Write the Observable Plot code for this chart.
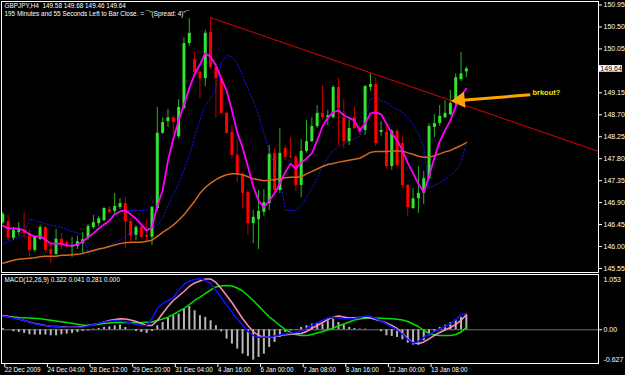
<!DOCTYPE html>
<html><head><meta charset="utf-8">
<script src="https://cdn.jsdelivr.net/npm/d3@7"></script>
<script src="https://cdn.jsdelivr.net/npm/@observablehq/plot@0.6"></script>
<style>
html,body{margin:0;padding:0;background:#000;}
#chart{position:relative;width:625px;height:375px;background:#000;overflow:hidden;}
#chart svg{position:absolute;left:0;display:block;}
</style></head><body><div id="chart"></div>
<script>
// ---- data (GBPJPY H4) ----
const open = [146.49,146.51,146.17,146.29,146.33,146.27,145.92,146.15,146.39,145.94,
145.84,146.15,146.08,145.98,146.00,146.06,146.17,146.39,146.47,146.53,
146.76,146.72,146.80,146.88,146.51,146.23,146.39,146.23,146.19,146.78,
148.32,148.56,148.64,148.25,148.83,150.16,149.83,149.57,149.44,150.39,
149.67,149.44,148.73,148.34,147.87,147.46,147.11,146.47,146.55,146.70,
146.88,147.91,147.15,148.01,147.85,147.83,147.25,147.95,148.15,148.46,
148.73,148.64,148.64,149.26,148.64,148.15,148.64,148.42,148.38,149.26,
149.32,148.34,148.34,147.64,148.36,148.11,147.25,146.78,146.98,147.09,
147.39,148.44,148.52,148.64,148.70,148.93,149.42,149.58];
const high = [146.70,146.64,146.39,146.49,146.68,146.33,146.21,146.43,146.41,146.08,
146.35,146.27,146.12,146.19,146.21,146.29,146.45,146.64,146.62,146.80,
146.82,147.09,146.98,147.00,146.57,146.43,146.45,146.55,146.82,148.85,
148.64,148.81,148.68,149.01,150.28,150.67,149.98,149.60,150.43,150.69,
149.67,149.46,148.75,148.48,148.19,147.52,147.15,146.74,147.15,147.17,
148.07,148.01,148.42,148.07,148.23,147.87,148.19,148.58,148.64,148.89,
149.30,148.79,149.30,149.44,149.01,148.62,148.85,148.48,149.30,149.54,
149.44,148.56,148.52,148.40,148.40,148.25,147.27,147.19,147.64,147.54,
148.52,148.70,148.89,148.99,149.20,149.54,149.98,149.68];
const low = [146.45,146.12,146.12,146.23,146.17,145.78,145.88,146.12,145.86,145.65,
145.82,145.94,145.98,145.78,145.94,145.86,146.12,146.35,146.41,146.51,
146.66,146.66,146.76,145.96,146.10,146.12,146.17,146.12,146.02,146.72,
148.30,148.44,148.30,148.21,148.79,150.10,149.53,149.03,149.28,149.63,
148.63,148.70,148.30,147.80,147.31,146.78,146.23,146.06,145.94,146.62,
146.74,147.11,147.09,147.76,147.80,147.13,147.00,147.91,148.13,148.42,
148.60,148.48,148.62,148.07,148.01,148.07,148.40,148.28,148.28,149.18,
148.05,148.26,147.58,147.56,147.62,147.19,146.62,146.76,146.68,146.86,
147.35,148.23,148.46,148.62,148.68,148.85,149.38,149.46];
const close = [146.66,146.17,146.33,146.35,146.27,145.92,146.19,146.39,145.92,145.84,
146.15,146.02,146.00,146.02,146.10,146.14,146.41,146.49,146.57,146.78,
146.70,146.82,146.88,146.51,146.21,146.39,146.19,146.19,146.80,148.32,
148.54,148.64,148.54,148.85,150.16,150.37,149.57,149.44,150.37,149.67,
149.44,148.73,148.32,147.87,147.50,147.09,146.47,146.60,146.72,146.90,
147.89,147.15,147.91,147.83,147.83,147.25,147.95,148.15,148.46,148.73,
148.64,148.68,149.26,148.83,148.15,148.42,148.42,148.34,149.28,149.32,
148.11,148.38,147.64,148.36,147.66,147.25,146.80,146.98,147.09,147.39,
148.46,148.52,148.67,148.73,148.93,149.46,149.54,149.64];
const maFast = [146.43,146.37,146.37,146.37,146.33,146.25,146.21,146.21,146.14,146.06,
146.06,146.06,146.02,146.02,146.04,146.10,146.19,146.27,146.37,146.45,
146.53,146.66,146.72,146.74,146.66,146.57,146.45,146.33,146.39,146.84,
147.15,147.76,148.21,148.58,148.91,149.24,149.53,149.73,149.96,149.89,
149.71,149.44,149.20,148.79,148.34,148.03,147.64,147.23,146.94,146.80,
146.94,147.09,147.29,147.52,147.70,147.60,147.72,147.80,147.91,148.17,
148.46,148.64,148.75,148.79,148.69,148.64,148.58,148.38,148.52,148.73,
148.75,148.71,148.52,148.32,148.17,147.97,147.72,147.50,147.29,147.11,
147.44,147.82,148.15,148.38,148.58,148.87,149.09,149.24];
const maSlow = [145.66,145.69,145.72,145.74,145.75,145.76,145.77,145.79,145.80,145.80,
145.80,145.82,145.82,145.83,145.84,145.86,145.89,145.92,145.95,145.97,
146.00,146.03,146.06,146.08,146.09,146.09,146.09,146.11,146.13,146.21,
146.29,146.36,146.44,146.54,146.65,146.79,146.93,147.09,147.21,147.30,
147.37,147.43,147.47,147.49,147.49,147.47,147.43,147.39,147.37,147.35,
147.36,147.37,147.39,147.41,147.42,147.42,147.43,147.49,147.54,147.59,
147.64,147.68,147.70,147.73,147.75,147.77,147.79,147.81,147.87,147.93,
147.95,147.95,147.95,147.96,147.96,147.96,147.92,147.89,147.85,147.83,
147.83,147.86,147.90,147.94,147.97,148.02,148.07,148.13];
const trailStop = [146.04,146.10,146.15,146.19,146.23,146.57,146.53,146.50,146.47,146.44,
146.42,146.39,146.35,146.31,146.28,146.25,145.90,145.89,145.93,145.97,
146.02,146.09,146.14,146.21,146.27,146.30,146.33,146.35,146.37,146.43,
146.59,146.84,147.07,147.29,147.56,147.87,148.25,148.58,148.89,149.03,
149.24,149.77,149.91,149.89,149.75,149.50,149.24,148.99,148.69,148.32,
147.97,147.66,147.46,146.74,146.74,146.74,146.84,147.01,147.19,147.39,
147.66,147.82,147.97,148.05,148.11,148.17,148.21,148.25,148.58,149.03,
149.05,148.99,148.95,148.87,148.81,148.75,148.64,148.50,148.32,148.03,
147.21,147.25,147.31,147.37,147.46,147.56,147.72,148.11];
const trailStopUpperBars = [23,24,25,26,27];
const trailStopUpper = [146.74,146.74,146.74,146.74,146.74];
const macdMain = [0.273,0.253,0.233,0.213,0.184,0.154,0.119,0.099,0.085,0.071,
0.065,0.055,0.051,0.051,0.051,0.051,0.075,0.105,0.130,0.154,
0.170,0.184,0.174,0.158,0.134,0.105,0.085,0.085,0.223,0.421,
0.520,0.579,0.638,0.777,0.895,0.964,0.994,1.008,0.974,0.915,
0.777,0.638,0.490,0.352,0.217,0.095,-0.034,-0.113,-0.146,-0.146,
-0.142,-0.123,-0.103,-0.083,-0.067,-0.053,-0.034,0.026,0.085,0.144,
0.184,0.233,0.253,0.233,0.217,0.217,0.223,0.243,0.273,0.263,
0.223,0.174,0.115,0.055,-0.004,-0.083,-0.192,-0.261,-0.231,-0.152,
-0.093,-0.034,0.016,0.065,0.124,0.194,0.302,0.322];
const macdPink = [0.283,0.263,0.243,0.213,0.184,0.154,0.124,0.105,0.085,0.071,
0.065,0.059,0.051,0.051,0.055,0.065,0.085,0.105,0.124,0.154,
0.184,0.204,0.217,0.213,0.194,0.164,0.124,0.085,0.085,0.184,
0.322,0.460,0.579,0.668,0.757,0.856,0.925,0.964,1.004,1.004,
0.935,0.816,0.678,0.539,0.381,0.223,0.085,-0.034,-0.113,-0.146,
-0.142,-0.132,-0.113,-0.099,-0.087,-0.079,-0.073,-0.034,0.026,0.085,
0.144,0.204,0.253,0.273,0.253,0.233,0.237,0.243,0.249,0.233,
0.204,0.174,0.134,0.085,0.026,-0.073,-0.172,-0.251,-0.277,-0.241,
-0.182,-0.113,-0.053,-0.004,0.045,0.105,0.184,0.302];
const macdSignal = [0.269,0.263,0.253,0.243,0.237,0.233,0.229,0.217,0.204,0.190,
0.174,0.158,0.144,0.128,0.111,0.095,0.085,0.099,0.111,0.124,
0.134,0.144,0.150,0.144,0.138,0.138,0.144,0.150,0.154,0.184,
0.213,0.249,0.302,0.362,0.421,0.500,0.579,0.644,0.717,0.786,
0.846,0.865,0.875,0.865,0.826,0.767,0.678,0.579,0.470,0.362,
0.253,0.174,0.085,0.006,-0.053,-0.093,-0.113,-0.113,-0.093,-0.063,
-0.034,-0.004,0.036,0.075,0.115,0.154,0.194,0.213,0.229,0.233,
0.233,0.229,0.223,0.217,0.209,0.194,0.164,0.115,0.065,-0.014,
-0.073,-0.103,-0.113,-0.113,-0.113,-0.093,-0.043,0.041];
const macdHist = [0.026,0.000,-0.040,-0.053,-0.072,-0.099,-0.105,-0.105,-0.105,-0.119,
-0.119,-0.099,-0.086,-0.072,-0.053,-0.033,-0.020,0.013,0.026,0.046,
0.059,0.079,0.092,0.046,0.000,-0.033,-0.053,-0.072,-0.033,0.079,
0.145,0.224,0.277,0.310,0.408,0.461,0.376,0.277,0.244,0.178,
0.079,-0.040,-0.184,-0.283,-0.382,-0.481,-0.527,-0.600,-0.547,-0.481,
-0.349,-0.250,-0.152,-0.053,-0.020,-0.007,0.046,0.079,0.112,0.132,
0.112,0.178,0.210,0.145,0.092,0.046,0.026,0.013,0.013,0.000,
0.000,-0.040,-0.119,-0.132,-0.152,-0.198,-0.264,-0.303,-0.303,-0.217,
-0.119,-0.040,0.046,0.092,0.145,0.198,0.244,0.281];
const dateLabels = ["22 Dec 2009","24 Dec 04:00","28 Dec 12:00","29 Dec 20:00","31 Dec 04:00","4 Jan 16:00","6 Jan 00:00","7 Jan 08:00","8 Jan 16:00","12 Jan 00:00","13 Jan 08:00"];
const dateBars = [0,8,16,24,32,40,48,56,64,72,80];
const priceTicks = [150.95,150.50,150.05,149.15,148.70,148.25,147.80,147.35,146.90,146.45,146.00,145.55];
const macdTicks = [1.053, 0, -0.627];
const trendBars = [39, 111.8];
const trendPrices = [150.69, 147.95];
const arrowTail = [99.0, 149.11];
const arrowTip = [86.2, 149.00];
const noteAt = [99.4, 149.16];
const noteText = "brkout?";
const header1 = "GBPJPY,H4  149.58 149.68 149.46 149.64";
const header2 = "195 Minutes and 55 Seconds Left to Bar Close. = \u00AF\"(Spread: 4)\"\u00AF";
const macdTitle = "MACD(12,26,9) 0.322 0.041 0.281 0.000";

// ---- build ----
const FONT = "'Liberation Sans', Arial, sans-serif";
const bars = open.map((o,i)=>({i,o,h:high[i],l:low[i],c:close[i]}));
const upBars = bars.filter(d=>d.c>=d.o), dnBars = bars.filter(d=>d.c<d.o);
const ser = arr => arr.map((v,i)=>({i,v}));
const xDom = [-0.43, 111.8];
const lastClose = close[close.length-1];

const main = Plot.plot({
  width:625, height:273, marginLeft:1, marginTop:1, marginRight:27, marginBottom:1,
  style:{background:"#000", color:"#fff", fontFamily:FONT, fontSize:"7px", overflow:"visible"},
  x:{type:"linear", domain:xDom, range:[0,598], axis:null, label:null},
  y:{domain:[145.45,151.042], range:[272.9,0], axis:null, label:null},
  marks:[
    Plot.line(ser(trailStop), {x:"i", y:"v", stroke:"#1414e6", strokeWidth:1, strokeDasharray:"1.5,2"}),
    Plot.line(trailStopUpper.map((v,k)=>({i:trailStopUpperBars[k], v})), {x:"i", y:"v", stroke:"#1414e6", strokeWidth:1, strokeDasharray:"1.5,2"}),
    Plot.ruleX(upBars, {x:"i", y1:"l", y2:"h", stroke:"#22b822", strokeWidth:1}),
    Plot.ruleX(dnBars, {x:"i", y1:"l", y2:"h", stroke:"#c00000", strokeWidth:1}),
    Plot.ruleX(upBars, {x:"i", y1:"o", y2:"c", stroke:"#33e233", strokeWidth:3}),
    Plot.ruleX(dnBars, {x:"i", y1:"o", y2:"c", stroke:"#ff0000", strokeWidth:3}),
    Plot.line(ser(maSlow), {x:"i", y:"v", stroke:"#d2691e", strokeWidth:1.5}),
    Plot.line(ser(maFast), {x:"i", y:"v", stroke:"#ff00ff", strokeWidth:1.8}),
    Plot.line(trendBars.map((b,k)=>({b, p:trendPrices[k]})), {x:"b", y:"p", stroke:"#e00000", strokeWidth:1}),
    Plot.link([{x1:arrowTail[0], y1:arrowTail[1], x2:arrowTip[0], y2:arrowTip[1]}], {x1:"x1", y1:"y1", x2:"x2", y2:"y2", stroke:"#ffa500", strokeWidth:3}),
    Plot.dot([{x:arrowTip[0], y:arrowTip[1]}], {x:"x", y:"y", symbol:"triangle", r:6, rotate:-95, fill:"#ffa500", dx:-2}),
    Plot.text([noteText], {x:()=>noteAt[0], y:()=>noteAt[1], text:d=>d, fill:"#e8e800", textAnchor:"start", fontSize:7.5, fontWeight:"bold"}),
    Plot.text([header1], {frameAnchor:"top-left", text:d=>d, dx:3, dy:2, fill:"#fff", lineAnchor:"top", fontSize:6.4}),
    Plot.text([header2], {frameAnchor:"top-left", text:d=>d, dx:3, dy:10, fill:"#fff", lineAnchor:"top", fontSize:6.4}),
    Plot.frame({stroke:"#fff"}),
    Plot.axisY({anchor:"right", label:null, ticks:priceTicks, tickFormat:d=>d.toFixed(2), tickSize:3, tickPadding:2, stroke:"#fff", fill:"#fff", fontSize:7}),
    Plot.rect([lastClose], {x1:()=>111.9, x2:()=>116.3, y1:d=>d-0.068, y2:d=>d+0.068, fill:"#fff"}),
    Plot.text([lastClose], {x:()=>112.15, y:d=>d, text:d=>d.toFixed(2), fill:"#000", textAnchor:"start", fontSize:7})
  ]
});
main.style.top = "0px";

const macd = Plot.plot({
  width:625, height:102, marginLeft:1, marginTop:1, marginRight:27, marginBottom:12,
  style:{background:"#000", color:"#fff", fontFamily:FONT, fontSize:"7px", overflow:"visible"},
  x:{type:"linear", domain:xDom, range:[0,598], axis:null, label:null},
  y:{domain:[-0.627,1.053], range:[88,3], axis:null, label:null},
  marks:[
    Plot.ruleY([0], {stroke:"#707070"}),
    Plot.ruleX(ser(macdHist), {x:"i", y1:0, y2:"v", stroke:"#b8b8b8", strokeWidth:2}),
    Plot.line(ser(macdSignal), {x:"i", y:"v", stroke:"#00e000", strokeWidth:1.5}),
    Plot.line(ser(macdPink), {x:"i", y:"v", stroke:"#ff8ec0", strokeWidth:1.5}),
    Plot.line(ser(macdMain), {x:"i", y:"v", stroke:"#1010ff", strokeWidth:1.5}),
    Plot.text([macdTitle], {frameAnchor:"top-left", text:d=>d, dx:3, dy:3, fill:"#fff", lineAnchor:"top", fontSize:6.4}),
    Plot.frame({stroke:"#fff"}),
    Plot.axisY({anchor:"right", label:null, ticks:[macdTicks[0]], tickFormat:d=>d.toFixed(3), tickSize:0, tickPadding:5, dy:3, fill:"#fff", fontSize:7}),
    Plot.axisY({anchor:"right", label:null, ticks:[macdTicks[1]], tickFormat:d=>d.toFixed(2), tickSize:3, tickPadding:2, stroke:"#fff", fill:"#fff", fontSize:7}),
    Plot.axisY({anchor:"right", label:null, ticks:[macdTicks[2]], tickFormat:d=>d.toFixed(3), tickSize:0, tickPadding:5, dy:-2, fill:"#fff", fontSize:7}),
    Plot.axisX({anchor:"bottom", label:null, ticks:dateBars, tickFormat:d=>dateLabels[dateBars.indexOf(d)], tickSize:4, tickPadding:0, textAnchor:"start", dx:2, stroke:"#fff", fill:"#fff", fontSize:6.3})
  ]
});
macd.style.top = "273px";

const root = document.getElementById("chart");
root.appendChild(main);
root.appendChild(macd);
</script></body></html>
